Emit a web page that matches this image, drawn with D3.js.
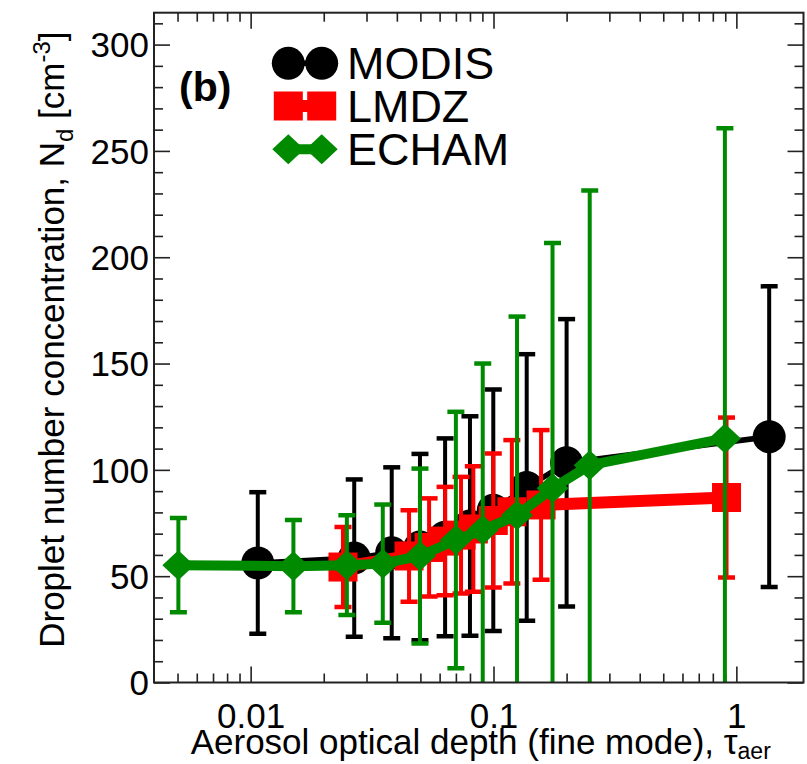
<!DOCTYPE html>
<html>
<head>
<meta charset="utf-8">
<script src="https://cdn.jsdelivr.net/npm/d3@7/dist/d3.min.js"></script>
<style>
  html, body { margin: 0; padding: 0; background: #fff; }
  svg { display: block; }
  text { font-family: "Liberation Sans", Arial, Helvetica, sans-serif; fill: #000; }
</style>
</head>
<body>
<svg id="chart" width="807" height="764"></svg>
<script>
// ---------------- data ----------------
const seriesNames = ["MODIS", "LMDZ", "ECHAM"];

const modisX   = [0.0107, 0.0267, 0.0381, 0.0498, 0.0632, 0.080, 0.0998, 0.137, 0.200, 1.365];
const modisY   = [56.2, 58.5, 61.0, 63.7, 68.3, 73.6, 81.0, 91.7, 103.3, 115.6];
const modisErr = [33.3, 37.0, 40.2, 43.8, 46.5, 51.6, 56.8, 62.7, 67.6, 70.7];

const lmdzX   = [0.0240, 0.0449, 0.0543, 0.0632, 0.0735, 0.0826, 0.0998, 0.119, 0.157, 0.911];
const lmdzY   = [54.3, 59.5, 63.5, 66.5, 69.3, 72.2, 76.2, 80.3, 83.5, 87.0];
const lmdzErr = [18.8, 21.5, 23.1, 25.5, 27.4, 29.5, 31.5, 33.7, 35.2, 37.6];

const echamX   = [0.00504, 0.0150, 0.0249, 0.0350, 0.0498, 0.0700, 0.0903, 0.125, 0.175, 0.249, 0.897];
const echamY   = [55.2, 54.7, 55.2, 55.9, 59.5, 67.0, 71.7, 78.7, 91.3, 102.2, 114.8];
const echamErr = [22.2, 21.7, 23.5, 27.8, 41.1, 60.3, 78.3, 93.4, 115.4, 129.2, 145.8];

const xTickValues = [0.01, 0.1, 1];
const xTickLabels = ["0.01", "0.1", "1"];
const yTickValues = [0, 50, 100, 150, 200, 250, 300];
const yTickLabels = ["0", "50", "100", "150", "200", "250", "300"];
const xDomain = [0.004, 1.89];
const yDomain = [0, 315];

const panelLabel = "(b)";

// ---------------- layout ----------------
const W = 807, H = 764;
const plot = { left: 154, right: 803.5, top: 12.7, bottom: 682.5 };

const svg = d3.select("#chart");
const x = d3.scaleLog().domain(xDomain).range([plot.left, plot.right]);
const y = d3.scaleLinear().domain(yDomain).range([plot.bottom, plot.top]);

svg.append("defs").append("clipPath").attr("id", "clip")
  .append("rect")
  .attr("x", plot.left).attr("y", plot.top)
  .attr("width", plot.right - plot.left).attr("height", plot.bottom - plot.top);

// ---------------- axes (ticks inward on all four sides) ----------------
const xMinor = [];
for (let e = -3; e <= 0; e++) {
  for (let m = 1; m <= 9; m++) {
    const v = m * Math.pow(10, e);
    if (v > xDomain[0] && v < xDomain[1]) xMinor.push(v);
  }
}
const yMinor = d3.range(0, 311, 10);

function isMajorX(v) { return xTickValues.some(t => Math.abs(t - v) / t < 1e-6); }

const tickColor = "#222";
const majorLen = 16, minorLen = 9;

// bottom axis
const gBottom = svg.append("g").attr("transform", `translate(0,${plot.bottom})`);
gBottom.call(d3.axisBottom(x).tickValues(xMinor).tickSizeOuter(0).tickFormat(""));
gBottom.select(".domain").remove();
gBottom.selectAll(".tick line")
  .attr("y2", d => isMajorX(d) ? -majorLen : -minorLen)
  .attr("stroke", tickColor).attr("stroke-width", 1.6);

const gBottomLabels = svg.append("g").attr("transform", `translate(0,${plot.bottom})`);
gBottomLabels.call(d3.axisBottom(x).tickValues(xTickValues).tickSize(0).tickPadding(0)
  .tickFormat((d, i) => xTickLabels[i]));
gBottomLabels.select(".domain").remove();
gBottomLabels.selectAll(".tick text")
  .attr("y", 45).attr("dy", 0)
  .style("font-size", "35px").style("font-family", "Liberation Sans, Arial, sans-serif")
  .attr("fill", "#000");

// top axis
const gTop = svg.append("g").attr("transform", `translate(0,${plot.top})`);
gTop.call(d3.axisTop(x).tickValues(xMinor).tickSizeOuter(0).tickFormat(""));
gTop.select(".domain").remove();
gTop.selectAll(".tick line")
  .attr("y2", d => isMajorX(d) ? majorLen : minorLen)
  .attr("stroke", tickColor).attr("stroke-width", 1.6);

// left axis
const gLeft = svg.append("g").attr("transform", `translate(${plot.left},0)`);
gLeft.call(d3.axisLeft(y).tickValues(yMinor).tickSizeOuter(0).tickFormat(""));
gLeft.select(".domain").remove();
gLeft.selectAll(".tick line")
  .attr("x2", d => d % 50 === 0 ? majorLen : minorLen)
  .attr("stroke", tickColor).attr("stroke-width", 1.6);

const gLeftLabels = svg.append("g").attr("transform", `translate(${plot.left},0)`);
gLeftLabels.call(d3.axisLeft(y).tickValues(yTickValues).tickSize(0).tickPadding(5)
  .tickFormat((d, i) => yTickLabels[i]));
gLeftLabels.select(".domain").remove();
gLeftLabels.selectAll(".tick text")
  .attr("dy", "0.35em")
  .style("font-size", "35px").style("font-family", "Liberation Sans, Arial, sans-serif")
  .attr("fill", "#000");

// right axis
const gRight = svg.append("g").attr("transform", `translate(${plot.right},0)`);
gRight.call(d3.axisRight(y).tickValues(yMinor).tickSizeOuter(0).tickFormat(""));
gRight.select(".domain").remove();
gRight.selectAll(".tick line")
  .attr("x2", d => d % 50 === 0 ? -majorLen : -minorLen)
  .attr("stroke", tickColor).attr("stroke-width", 1.6);

// ---------------- series ----------------
const series = [
  { name: seriesNames[0], xs: modisX, ys: modisY, es: modisErr, color: "#000000", lw: 5.5, marker: "circle" },
  { name: seriesNames[1], xs: lmdzX, ys: lmdzY, es: lmdzErr, color: "#ff0000", lw: 12, marker: "square" },
  { name: seriesNames[2], xs: echamX, ys: echamY, es: echamErr, color: "#008a00", lw: 10, marker: "diamond" }
];

const gData = svg.append("g").attr("clip-path", "url(#clip)");
const capHalf = 8.5;
const line = d3.line().x(d => x(d[0])).y(d => y(d[1]));

function drawMarker(g, type, cx, cy, color, scale) {
  const s = scale || 1;
  if (type === "circle") {
    g.append("circle").attr("cx", cx).attr("cy", cy).attr("r", 16.5 * s).attr("fill", color);
  } else if (type === "square") {
    const h = 14.5 * s;
    g.append("rect").attr("x", cx - h).attr("y", cy - h).attr("width", 2 * h).attr("height", 2 * h).attr("fill", color);
  } else {
    const hw = 16 * s, hh = 15 * s;
    g.append("path")
      .attr("d", `M${cx - hw},${cy}L${cx},${cy - hh}L${cx + hw},${cy}L${cx},${cy + hh}Z`)
      .attr("fill", color);
  }
}

series.forEach(s => {
  const pts = s.xs.map((xv, i) => ({ x: xv, y: s.ys[i], e: s.es[i] }));
  const g = gData.append("g");
  // error bars
  pts.forEach(p => {
    const px = x(p.x), yTop = y(p.y + p.e), yBot = y(p.y - p.e);
    g.append("line").attr("x1", px).attr("x2", px).attr("y1", yTop).attr("y2", yBot)
      .attr("stroke", s.color).attr("stroke-width", 4);
    [yTop, yBot].forEach(yy => {
      g.append("line").attr("x1", px - capHalf).attr("x2", px + capHalf).attr("y1", yy).attr("y2", yy)
        .attr("stroke", s.color).attr("stroke-width", 4.5);
    });
  });
  // connecting line
  g.append("path").datum(pts.map(p => [p.x, p.y])).attr("d", line)
    .attr("fill", "none").attr("stroke", s.color).attr("stroke-width", s.lw)
    .attr("stroke-linejoin", "miter");
  // markers
  pts.forEach(p => drawMarker(g, s.marker, x(p.x), y(p.y), s.color));
});

// ---------------- frame ----------------
svg.append("rect")
  .attr("x", plot.left).attr("y", plot.top)
  .attr("width", plot.right - plot.left).attr("height", plot.bottom - plot.top)
  .attr("fill", "none").attr("stroke", "#222").attr("stroke-width", 2);

// ---------------- legend ----------------
const legY = [63.3, 106, 149.3];
const legX1 = 288.3, legX2 = 321.7;
const gLeg = svg.append("g");
series.forEach((s, i) => {
  gLeg.append("line").attr("x1", legX1).attr("x2", legX2).attr("y1", legY[i]).attr("y2", legY[i])
    .attr("stroke", s.color).attr("stroke-width", s.lw);
  drawMarker(gLeg, s.marker, legX1, legY[i], s.color);
  drawMarker(gLeg, s.marker, legX2, legY[i], s.color);
  gLeg.append("text")
    .attr("transform", `translate(347,${legY[i] + 15.5}) scale(1.07,1.04)`)
    .style("font-size", "42px").text(s.name);
});

// panel label
svg.append("text").attr("x", 179).attr("y", 101)
  .style("font-size", "41px").style("font-weight", "bold").text(panelLabel);

// ---------------- axis titles ----------------
const xt = svg.append("text")
  .attr("x", (plot.left + plot.right) / 2 + 2).attr("y", 754)
  .attr("text-anchor", "middle").style("font-size", "35px");
xt.append("tspan").text("Aerosol optical depth (fine mode), \u03c4");
xt.append("tspan").attr("dy", 5).style("font-size", "23px").text("aer");

const yt = svg.append("text")
  .attr("transform", `translate(64,${(plot.top + plot.bottom) / 2 - 8}) rotate(-90)`)
  .attr("text-anchor", "middle").style("font-size", "35px");
yt.append("tspan").text("Droplet number concentration, N");
yt.append("tspan").attr("dy", 9).style("font-size", "24px").text("d");
yt.append("tspan").attr("dy", -9).text(" [cm");
yt.append("tspan").attr("dy", -14).style("font-size", "24px").text("-3");
yt.append("tspan").attr("dy", 14).text("]");
</script>
</body>
</html>
